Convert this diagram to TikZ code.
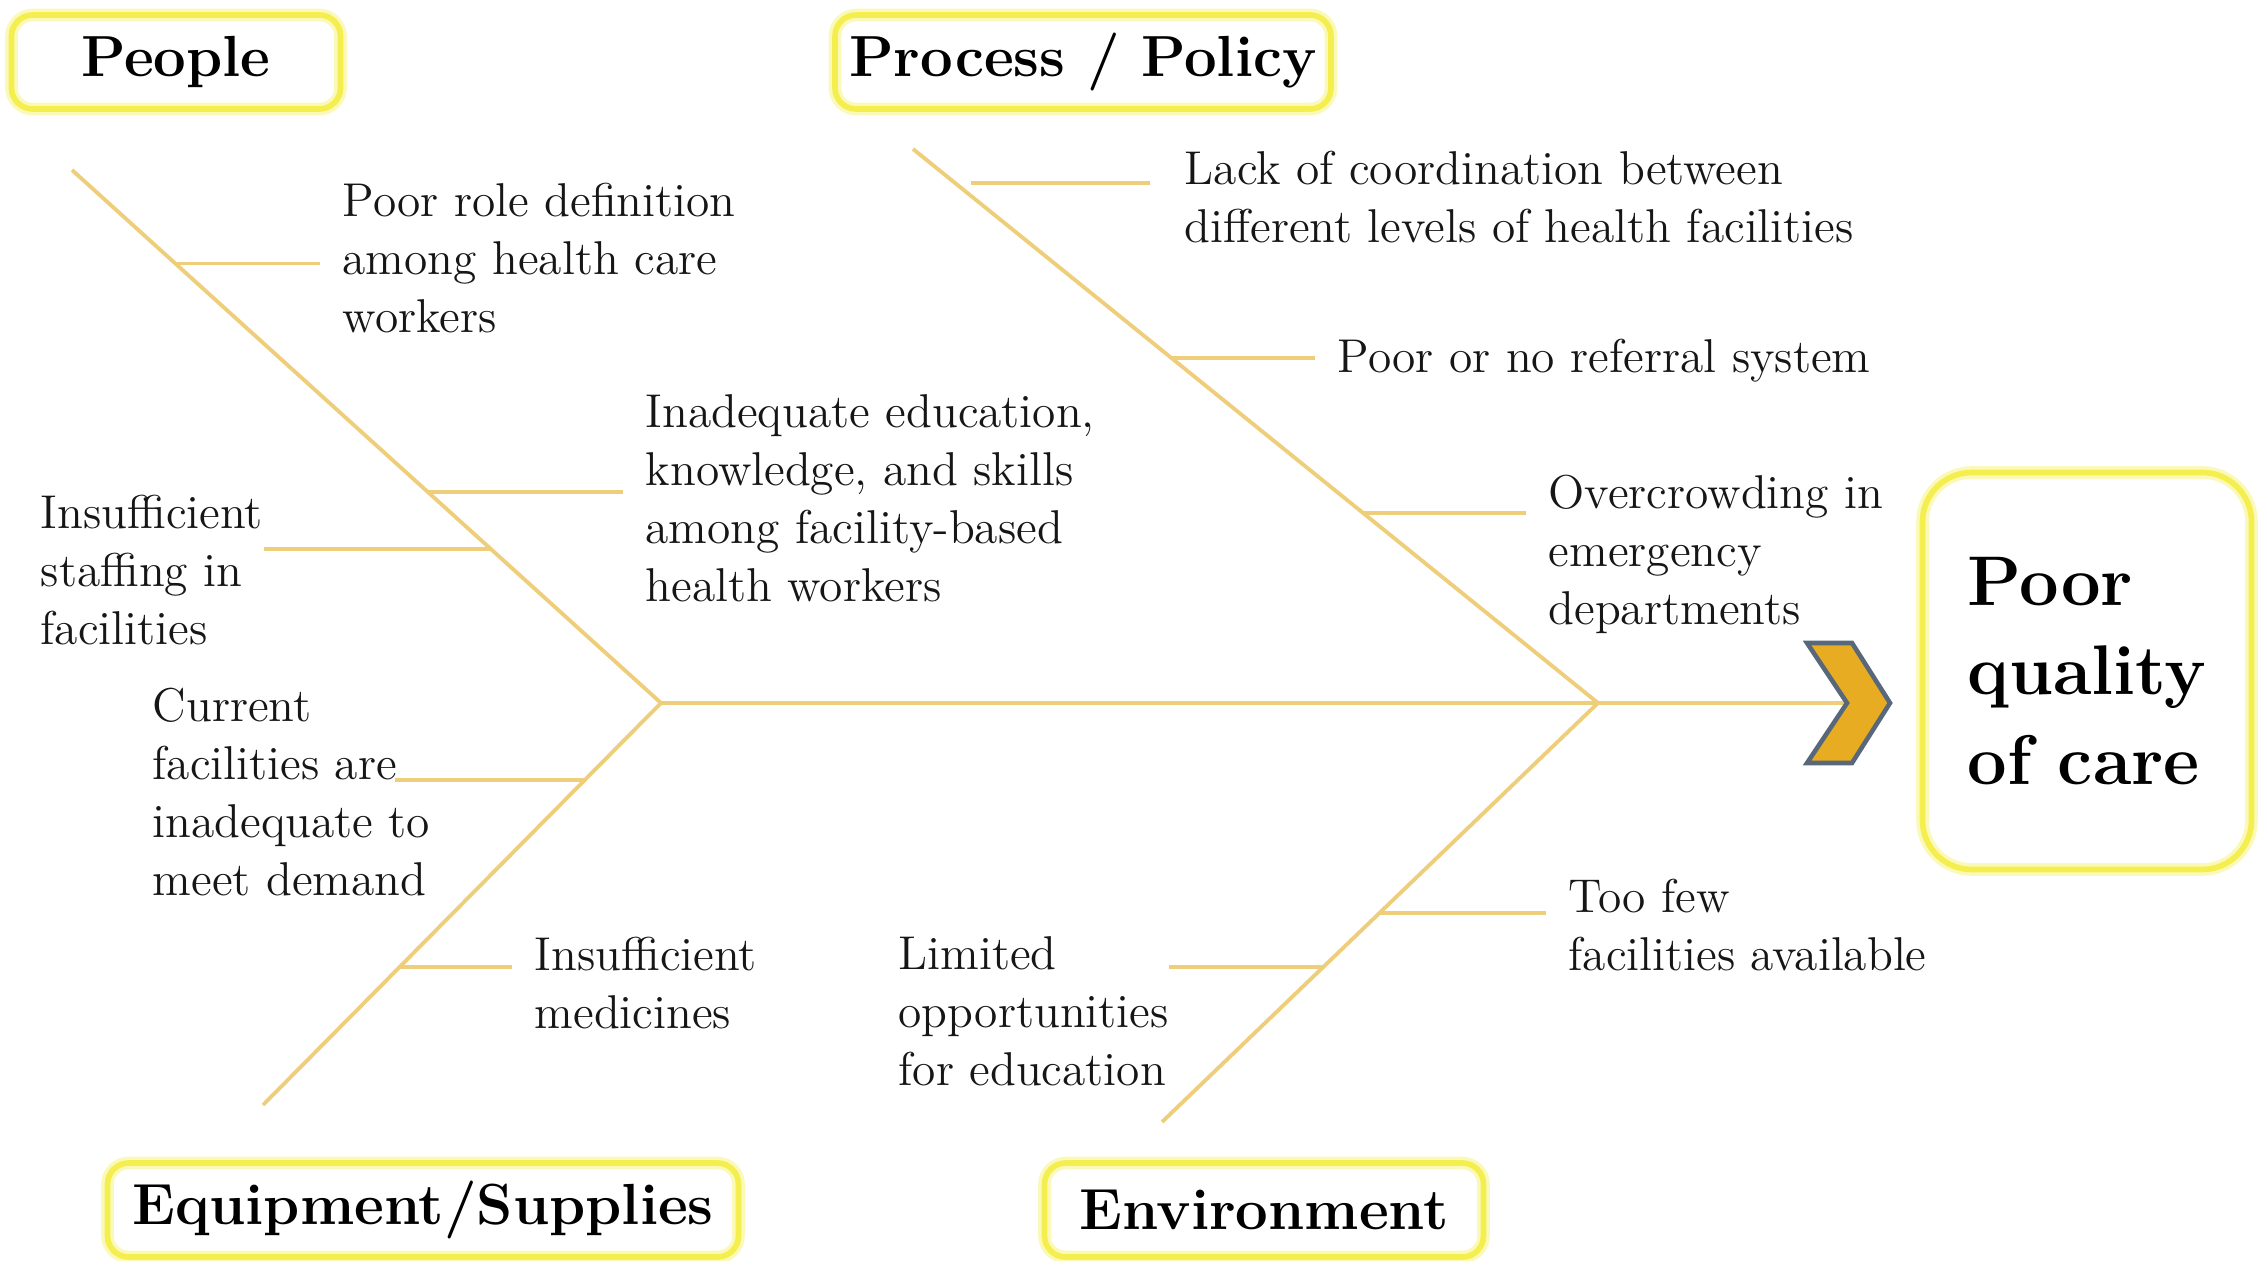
\documentclass[tikz,border=0pt]{standalone}
\usepackage{tikz}
\usetikzlibrary{positioning,calc}

\definecolor{bone}{RGB}{238,206,122}
\definecolor{boxyellow}{RGB}{244,238,78}
\definecolor{boxglow}{RGB}{251,249,185}
\definecolor{chevfill}{RGB}{232,172,34}
\definecolor{chevedge}{RGB}{88,104,122}
\definecolor{txt}{RGB}{22,22,22}

\tikzset{
  headbox/.style={draw=boxyellow,line width=1.6pt,rounded corners=6pt,
    preaction={draw=boxglow,line width=3.6pt},
    minimum height=9.4mm,inner sep=0pt,
    font=\fontsize{16.5}{20}\selectfont\bfseries},
  cause/.style={align=left,inner sep=0pt,anchor=north west,text=txt,
    font=\fontsize{13.5}{16.5}\selectfont},
  bonestyle/.style={draw=bone,line width=1.1pt},
  twig/.style={draw=bone,line width=1pt},
}

\begin{document}
\begin{tikzpicture}[x=0.1mm,y=-0.1mm]
    \useasboundingbox (0,0) rectangle (2264,1261);
    % category heads
    \node[headbox,minimum width=32.9mm] (people) at (176,62)   {People};
    \node[headbox,minimum width=49.6mm] (proc)   at (1083,62)  {Process / Policy};
    \node[headbox,minimum width=63.1mm] (equip)  at (423,1210) {Equipment/Supplies};
    \node[headbox,minimum width=43.9mm] (envir)  at (1264,1210){Environment};
    % effect
    \node[headbox,minimum width=32.9mm,minimum height=39.7mm,rounded corners=14pt,
          align=left,font=\fontsize{20}{25.5}\selectfont\bfseries] (effect) at (2087,671)
          {Poor\\quality\\of care};

    % bones
    \coordinate (lj)    at (661,703);
    \coordinate (rj)    at (1598,703);
    \coordinate (peo)   at (72,170);
    \coordinate (equ)   at (263,1105);
    \coordinate (pro)   at (913,149);
    \coordinate (env)   at (1162,1122);
    \coordinate (notch) at (1847,703);
    \foreach \from/\to in {peo/lj,equ/lj,pro/rj,env/rj,lj/notch}
      \draw [bonestyle] (\from) -- (\to);

    % causes
    \node[cause] (role) at (342,182)  {Poor role definition\\among health care\\workers};
    \node[cause] (edu)  at (645,394)  {Inadequate education,\\knowledge, and skills\\among facility-based\\health workers};
    \node[cause] (stf)  at (40,494)   {Insufficient\\staffing in\\facilities};
    \node[cause] (cur)  at (152,687)  {Current\\facilities are\\inadequate to\\meet demand};
    \node[cause] (med)  at (534,936)  {Insufficient\\medicines};
    \node[cause] (lim)  at (898,936)  {Limited\\opportunities\\for education};
    \node[cause] (few)  at (1568,878) {Too few\\facilities available};
    \node[cause] (lack) at (1184,150) {Lack of coordination between\\different levels of health facilities};
    \node[cause] (ref)  at (1337,338) {Poor or no referral system};
    \node[cause] (ovr)  at (1548,474) {Overcrowding in\\emergency\\departments};

    % twigs on the bones
    \coordinate (b1) at ($(peo)!0.175!(lj)$);
    \coordinate (b2) at ($(peo)!0.604!(lj)$);
    \coordinate (b3) at ($(peo)!0.711!(lj)$);
    \coordinate (b4) at ($(equ)!0.808!(lj)$);
    \coordinate (b5) at ($(equ)!0.343!(lj)$);
    \coordinate (b6) at ($(pro)!0.061!(rj)$);
    \coordinate (b7) at ($(pro)!0.377!(rj)$);
    \coordinate (b8) at ($(pro)!0.657!(rj)$);
    \coordinate (b9) at ($(env)!0.499!(rj)$);
    \coordinate (b10) at ($(env)!0.370!(rj)$);
    \foreach \b/\t in {b1/role,b2/edu,b5/med,b7/ref,b8/ovr,b9/few}
      \draw [twig,shorten >=2.2mm] (\b) -- (\b -| \t.west);
    \draw [twig,shorten <=1.6mm,shorten >=3.4mm] (b6) -- (b6 -| lack.west);
    \foreach \b/\t in {b3/stf,b10/lim}
      \draw [twig] (\t.east |- \b) -- (\b);
    \draw [twig] ($(cur.east |- b4)+(-36,0)$) -- (b4);

    % chevron
    \draw [fill=chevfill,draw=chevedge,line width=1.3pt]
      (notch) -- ++(-40,-60) -- ++(45,0) -- ++(38,60) -- ++(-38,60) -- ++(-45,0) -- cycle;
\end{tikzpicture}
\end{document}
